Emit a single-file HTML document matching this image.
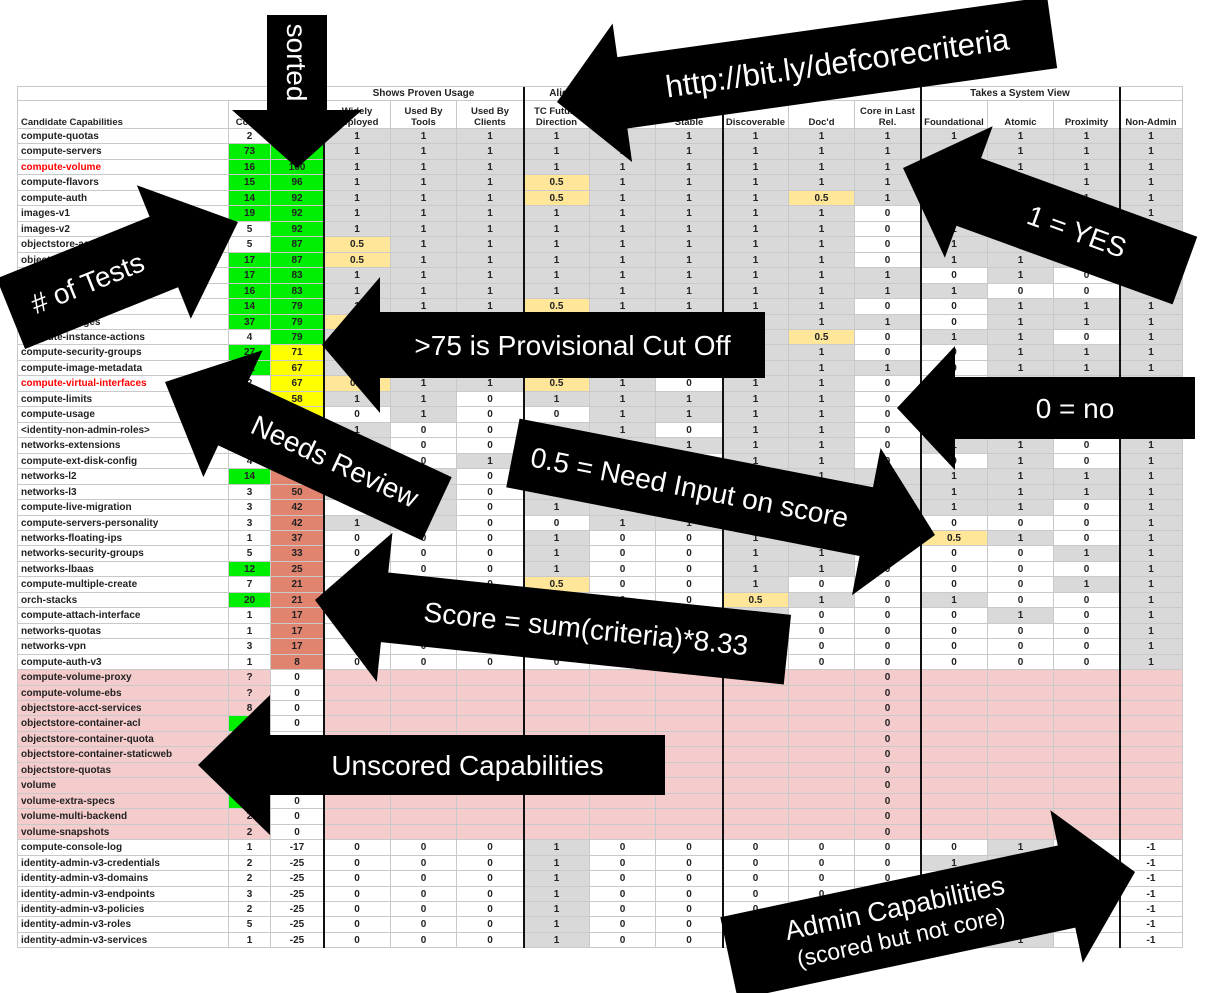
<!DOCTYPE html>
<html><head><meta charset="utf-8"><style>
html,body{margin:0;padding:0;background:#fff;}
body{width:1209px;height:993px;position:relative;overflow:hidden;font-family:"Liberation Sans",sans-serif;}
#t{position:absolute;left:0;top:0;}
.c{position:absolute;box-sizing:border-box;border-right:1px solid #c9c9c9;border-bottom:1px solid #c9c9c9;font-size:10px;font-weight:bold;color:#222;text-align:center;line-height:15px;overflow:hidden;white-space:nowrap;}
.n{text-align:left;padding-left:4px;font-weight:bold;color:#222;}
.h{font-size:9.5px;line-height:11px;white-space:normal;display:flex;align-items:flex-end;justify-content:center;}
.v{position:absolute;width:2px;background:#111;}
svg{position:absolute;left:0;top:0;}
</style></head><body>
<div id="t"></div>
<svg width="1209" height="993" id="s" font-family="Liberation Sans, sans-serif"></svg>
<script>
var X=[17,229,271,324,391,457,524,590,656,723,789,855,921,988,1054,1120,1183];
var T=document.getElementById('t');
function cell(x1,x2,y,h,txt,bg,cls,col){var d=document.createElement('div');d.className='c '+(cls||'');d.style.left=x1+'px';d.style.top=y+'px';d.style.width=(x2-x1)+'px';d.style.height=h+'px';if(bg)d.style.background=bg;if(col)d.style.color=col;d.textContent=txt;T.appendChild(d);return d;}
var top0=86,hA=15,hB=28;
cell(X[0],X[3],top0,hA,'');
cell(X[3],X[6],top0,hA,'Shows Proven Usage');
cell(X[6],X[9],top0,hA,'Aligns with Technical Direction');
cell(X[9],X[12],top0,hA,'');
cell(X[12],X[15],top0,hA,'Takes a System View');
cell(X[15],X[16],top0,hA,'');
var hd=['Candidate Capabilities','Count','Score','Widely Deployed','Used By Tools','Used By Clients','TC Future Direction','Future Direction','Stable','Discoverable','Doc\'d','Core in Last Rel.','Foundational','Atomic','Proximity','Non-Admin'];
for(var i=0;i<16;i++){var d=cell(X[i],X[i+1],top0+hA,hB,hd[i],null,'h');if(i==0){d.style.justifyContent='flex-start';d.style.paddingLeft='4px';}}
var R=[
['compute-quotas','2','','100','g','1 1 1 1 1 1 1 1 1 1 1 1 1'],
['compute-servers','73','G','100','g','1 1 1 1 1 1 1 1 1 1 1 1 1'],
['compute-volume','16','G','100','g','1 1 1 1 1 1 1 1 1 1 1 1 1','red'],
['compute-flavors','15','G','96','g','1 1 1 .5 1 1 1 1 1 1 1 1 1'],
['compute-auth','14','G','92','g','1 1 1 .5 1 1 1 .5 1 1 1 1 1'],
['images-v1','19','G','92','g','1 1 1 1 1 1 1 1 0 1 1 1 1'],
['images-v2','5','','92','g','1 1 1 1 1 1 1 1 0 1 1 1 1'],
['objectstore-account','5','','87','g','.5 1 1 1 1 1 1 1 0 1 1 1 1'],
['objectstore-container','17','G','87','g','.5 1 1 1 1 1 1 1 0 1 1 1 1'],
['objectstore-object','17','G','83','g','1 1 1 1 1 1 1 1 1 0 1 0 1'],
['compute-keypairs','16','G','83','g','1 1 1 1 1 1 1 1 1 1 0 0 1'],
['compute-floating-ips','14','G','79','g','1 1 1 .5 1 1 1 1 0 0 1 1 1'],
['compute-images','37','G','79','g','.5 1 1 1 1 1 1 1 1 0 1 1 1'],
['compute-instance-actions','4','','79','g','1 1 1 1 1 1 1 .5 0 1 1 0 1'],
['compute-security-groups','27','G','71','y','1 1 1 1 1 1 1 1 0 0 1 1 1'],
['compute-image-metadata','12','G','67','y','1 1 1 1 1 1 1 1 1 0 1 1 1'],
['compute-virtual-interfaces','2','','67','y','.5 1 1 .5 1 0 1 1 0 0 1 1 1','red'],
['compute-limits','1','','58','y','1 1 0 1 1 1 1 1 0 0 1 1 1'],
['compute-usage','1','','58','y','0 1 0 0 1 1 1 1 0 0 1 1 1'],
['<identity-non-admin-roles>','1','','54','r','1 0 0 1 1 0 1 1 0 0 1 0 1'],
['networks-extensions','2','','54','r','1 0 0 1 1 1 1 1 0 1 1 0 1'],
['compute-ext-disk-config','4','','50','r','1 0 1 1 1 0 1 1 0 0 1 0 1'],
['networks-l2','14','G','50','r','1 1 0 1 1 1 1 1 1 1 1 1 1'],
['networks-l3','3','','50','r','1 1 0 1 1 1 1 1 1 1 1 1 1'],
['compute-live-migration','3','','42','r','0 1 0 1 1 1 1 1 1 1 1 0 1'],
['compute-servers-personality','3','','42','r','1 1 0 0 1 1 1 1 0 0 0 0 1'],
['networks-floating-ips','1','','37','r','0 0 0 1 0 0 1 1 0 .5 1 0 1'],
['networks-security-groups','5','','33','r','0 0 0 1 0 0 1 1 0 0 0 1 1'],
['networks-lbaas','12','G','25','r','0 0 0 1 0 0 1 1 0 0 0 0 1'],
['compute-multiple-create','7','','21','r','0 0 0 .5 0 0 1 0 0 0 0 1 1'],
['orch-stacks','20','G','21','r','0 0 0 0 0 0 .5 1 0 1 0 0 1'],
['compute-attach-interface','1','','17','r','0 0 0 1 0 0 1 0 0 0 1 0 1'],
['networks-quotas','1','','17','r','0 0 0 0 0 0 0 0 0 0 0 0 1'],
['networks-vpn','3','','17','r','0 0 0 0 0 0 0 0 0 0 0 0 1'],
['compute-auth-v3','1','','8','r','0 0 0 0 0 0 0 0 0 0 0 0 1'],
['compute-volume-proxy','?','','0','w','P'],
['compute-volume-ebs','?','','0','w','P'],
['objectstore-acct-services','8','','0','w','P'],
['objectstore-container-acl','','G','0','w','P'],
['objectstore-container-quota','','','0','w','P'],
['objectstore-container-staticweb','','','0','w','P'],
['objectstore-quotas','','','0','w','P'],
['volume','','','0','w','P'],
['volume-extra-specs','','G','0','w','P'],
['volume-multi-backend','2','','0','w','P'],
['volume-snapshots','2','','0','w','P'],
['compute-console-log','1','','-17','w','0 0 0 1 0 0 0 0 0 0 1 0 -1'],
['identity-admin-v3-credentials','2','','-25','w','0 0 0 1 0 0 0 0 0 1 1 0 -1'],
['identity-admin-v3-domains','2','','-25','w','0 0 0 1 0 0 0 0 0 0 1 0 -1'],
['identity-admin-v3-endpoints','3','','-25','w','0 0 0 1 0 0 0 0 0 0 1 0 -1'],
['identity-admin-v3-policies','2','','-25','w','0 0 0 1 0 0 0 0 0 0 1 0 -1'],
['identity-admin-v3-roles','5','','-25','w','0 0 0 1 0 0 0 0 0 0 1 0 -1'],
['identity-admin-v3-services','1','','-25','w','0 0 0 1 0 0 0 0 0 0 1 0 -1']
];
var SC={g:'#00ee00',y:'#ffff00',r:'#e0836f',w:'#fff'};
var y0=129,p=15.46;
R.forEach(function(r,i){
 var y=Math.round(y0+i*p),h=Math.round(y0+(i+1)*p)-y;
 var pink=r[5]=='P',bgRow=pink?'#f4cccc':'#fff';
 cell(X[0],X[1],y,h,r[0],bgRow,'n',r[6]);
 cell(X[1],X[2],y,h,r[1],r[2]=='G'?'#00ee00':bgRow);
 cell(X[2],X[3],y,h,r[3],SC[r[4]]);
 if(pink){for(var k=0;k<13;k++)cell(X[3+k],X[4+k],y,h,k==8?'0':'','#f4cccc');}
 else{var v=r[5].split(' ');for(var k=0;k<13;k++){var t=v[k],bg=t=='1'?'#d9d9d9':(t=='.5'?'#ffe699':'#fff');cell(X[3+k],X[4+k],y,h,t=='.5'?'0.5':t,bg);}}
});
var yEnd=Math.round(y0+R.length*p);
[324,524,723,921,1120].forEach(function(x){var d=document.createElement('div');d.className='v';d.style.left=(x-1)+'px';d.style.top=top0+'px';d.style.height=(yEnd-top0)+'px';T.appendChild(d);});
var b=document.createElement('div');b.style.cssText='position:absolute;left:17px;top:86px;width:1166px;height:1px;background:#c9c9c9';T.appendChild(b);
b=document.createElement('div');b.style.cssText='position:absolute;left:17px;top:86px;width:1px;height:'+(yEnd-86)+'px;background:#c9c9c9';T.appendChild(b);

var S=document.getElementById('s'),NS='http://www.w3.org/2000/svg';
function arrow(tx,ty,th,L,bh,hl,hh,lines,fs){
 var g=document.createElementNS(NS,'g');g.setAttribute('transform','translate('+tx+','+ty+') rotate('+th+')');
 var pg=document.createElementNS(NS,'polygon');
 pg.setAttribute('points','0,0 '+(-hl)+','+(-hh)+' '+(-hl)+','+(-bh)+' '+(-L)+','+(-bh)+' '+(-L)+','+bh+' '+(-hl)+','+bh+' '+(-hl)+','+hh);
 pg.setAttribute('fill','#000');g.appendChild(pg);
 var cx=-(L+hl)/2,flip=(th>90&&th<270);
 var tg=document.createElementNS(NS,'g');tg.setAttribute('transform','translate('+cx+',0)'+(flip?' rotate(180)':''));
 lines.forEach(function(l,i){var t=document.createElementNS(NS,'text');t.setAttribute('x',0);t.setAttribute('y',(i-(lines.length-1)/2)*fs*1.15+fs*0.35);t.setAttribute('text-anchor','middle');t.setAttribute('fill','#fff');t.setAttribute('font-size',l[1]||fs);t.textContent=l[0];tg.appendChild(t);});
 g.appendChild(tg);S.appendChild(g);
}
arrow(297,168,90,153,30,58,65,[['sorted']],28);
arrow(557,102,172,500,36,66,70,[['http://bit.ly/defcorecriteria']],31);
arrow(903,168,200,300,36,70,70,[['1 = YES']],28);
arrow(238,222,-22,245,38,80,72,[['# of Tests']],28);
arrow(322,345,180,443,33,58,68,[['>75 is Provisional Cut Off']],28);
arrow(897,408,180,298,31,58,62,[['0 = no']],28);
arrow(165,382,205,300,35,75,70,[['Needs Review']],28);
arrow(935,535,11,430,35,70,75,[['0.5 = Need Input on score']],28);
arrow(315,600,186,475,35,70,75,[['Score = sum(criteria)*8.33']],28);
arrow(198,765,180,467,30,72,70,[['Unscored Capabilities']],28);
arrow(1135,872,-12,415,42,70,78,[['Admin Capabilities',27],['(scored but not core)',23]],25);
</script>
</body></html>
